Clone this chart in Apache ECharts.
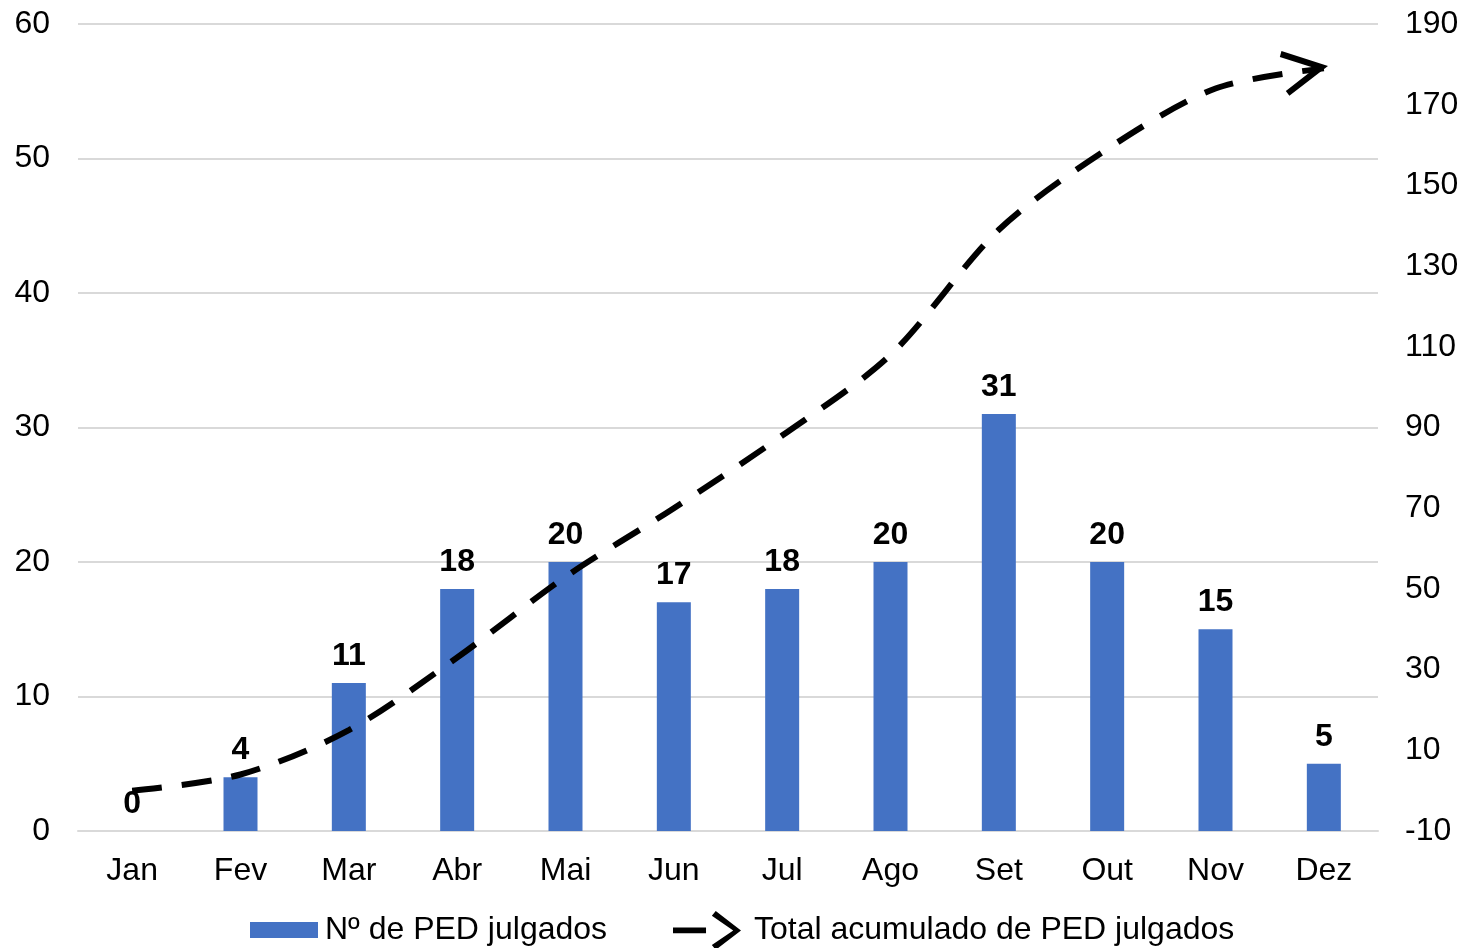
<!DOCTYPE html>
<html>
<head>
<meta charset="utf-8">
<title>PED julgados</title>
<script src="https://cdn.jsdelivr.net/npm/echarts@6/dist/echarts.min.js"></script>
<style>
  html, body { margin: 0; padding: 0; background: #fff; }
  #chart { width: 1463px; height: 948px; }
</style>
</head>
<body>
<div id="chart"></div>
<script>
  // dados
  var meses = ['Jan', 'Fev', 'Mar', 'Abr', 'Mai', 'Jun', 'Jul', 'Ago', 'Set', 'Out', 'Nov', 'Dez'];
  var julgados = [0, 4, 11, 18, 20, 17, 18, 20, 31, 20, 15, 5];
  var acumulado = [0, 4, 15, 33, 53, 70, 88, 108, 139, 159, 174, 179];
  var nomeBarra = 'Nº de PED julgados';
  var nomeLinha = 'Total acumulado de PED julgados';

  var fonte = '"Liberation Sans", Arial, sans-serif';

  // a seta fica só no último ponto
  var dadosLinha = acumulado.map(function (v, i) {
    if (i !== acumulado.length - 1) return v;
    return {
      value: v,
      symbol: 'path://M0,0 L10,5 L0,10',
      symbolSize: [38, 40],
      symbolRotate: 10,
      symbolOffset: [-21, 2],
      itemStyle: { color: 'none', borderColor: '#000', borderWidth: 6 }
    };
  });

  var chart = echarts.init(document.getElementById('chart'));
  chart.setOption({
    animation: false,
    textStyle: { fontFamily: fonte },
    grid: { left: 78, right: 85, top: 24, bottom: 117 },
    legend: [
      {
        data: [nomeBarra],
        left: 250,
        top: 914,
        padding: 0,
        itemWidth: 68,
        itemHeight: 16,
        icon: 'rect',
        textStyle: { fontSize: 32, color: '#000', fontFamily: fonte, padding: [0, 0, 0, 2] }
      },
      {
        data: [nomeLinha],
        left: 673,
        top: 911,
        padding: 0,
        itemWidth: 68,
        itemHeight: 40,
        icon: 'path://M0,17 L34,17 L34,23 L0,23 Z M40,5 L44,0 L70,20 L44,40 L40,35 L62,20 Z',
        itemStyle: { color: '#000', borderWidth: 0 },
        lineStyle: { width: 0 },
        textStyle: { fontSize: 32, color: '#000', fontFamily: fonte, padding: [0, 0, 0, 8] }
      }
    ],
    xAxis: {
      type: 'category',
      data: meses,
      axisLine: { lineStyle: { color: '#d9d9d9', width: 2 } },
      axisTick: { show: false },
      axisLabel: { fontSize: 32, color: '#000', margin: 24 }
    },
    yAxis: [
      {
        type: 'value',
        min: 0,
        max: 60,
        interval: 10,
        axisLine: { show: false },
        axisTick: { show: false },
        axisLabel: { fontSize: 32, color: '#000', margin: 28 },
        splitLine: { lineStyle: { color: '#d9d9d9', width: 2 } }
      },
      {
        type: 'value',
        min: -10,
        max: 190,
        interval: 20,
        axisLine: { show: false },
        axisTick: { show: false },
        axisLabel: { fontSize: 32, color: '#000', margin: 27 },
        splitLine: { show: false }
      }
    ],
    series: [
      {
        name: nomeBarra,
        type: 'bar',
        data: julgados,
        barWidth: 34,
        itemStyle: { color: '#4472C4' },
        label: {
          show: true,
          position: 'top',
          distance: 11,
          fontSize: 32,
          fontWeight: 'bold',
          color: '#000'
        },
        z: 2
      },
      {
        name: nomeLinha,
        type: 'line',
        yAxisIndex: 1,
        data: dadosLinha,
        smooth: 0.3,
        symbol: 'none',
        showSymbol: true,
        lineStyle: { color: '#000', width: 6, type: [30, 20] },
        itemStyle: { color: '#000' },
        z: 3
      }
    ]
  });
</script>
</body>
</html>
